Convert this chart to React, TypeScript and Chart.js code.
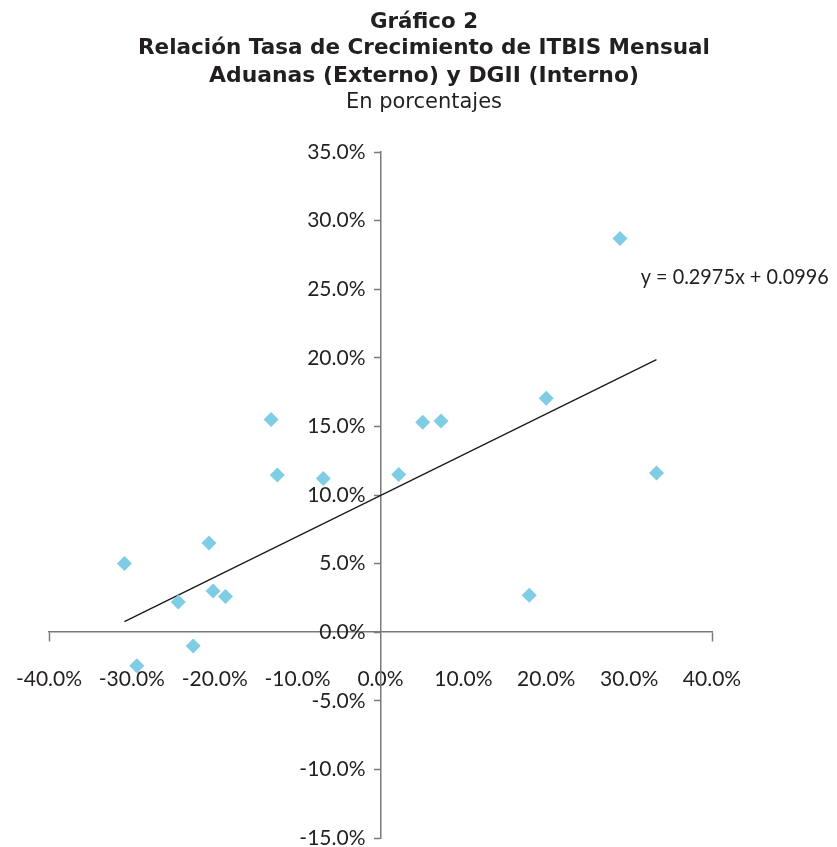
import React, { useEffect, useRef } from "react";
import { Chart, registerables } from "chart.js";

Chart.register(...registerables);

// ---- data ----
const titleLines = [
  "Gráfico 2",
  "Relación Tasa de Crecimiento de ITBIS Mensual",
  "Aduanas (Externo) y DGII (Interno)",
];
const subtitleText = "En porcentajes";

// Crecimiento ITBIS Aduanas (externo), % — eje X
const externoX = [-30.9, -29.4, -24.4, -22.6, -20.7, -20.2, -18.7, -13.2, -12.45, -6.9, 2.2, 5.1, 7.3, 17.95, 20.0, 28.9, 33.3];
// Crecimiento ITBIS DGII (interno), % — eje Y
const internoY = [5.0, -2.45, 2.2, -1.0, 6.5, 3.0, 2.6, 15.5, 11.45, 11.2, 11.5, 15.3, 15.4, 2.7, 17.05, 28.7, 11.6];

const trendSlope = 0.2975;
const trendIntercept = 9.96; // in percent units (0.0996)
const trendLabel = "y = 0.2975x + 0.0996";

const xMin = -40;
const xMax = 40;
const xStep = 10;
const yMin = -15;
const yMax = 35;
const yStep = 5;

const pointColor = "rgb(126,205,228)";
const textColor = "#231f20";
const axisColor = "#7a7a7a";
const tickFont = "Lato";

export default function App() {
  const canvasRef = useRef<HTMLCanvasElement | null>(null);

  useEffect(() => {
    const canvas = canvasRef.current;
    if (!canvas) return;

    const points = externoX.map((x, i) => ({ x, y: internoY[i] }));
    const tx0 = Math.min(...externoX);
    const tx1 = Math.max(...externoX);
    const trend = [
      { x: tx0, y: trendSlope * tx0 + trendIntercept },
      { x: tx1, y: trendSlope * tx1 + trendIntercept },
    ];

    // y labels for a centered axis are drawn flush against the axis; move them left of the tick marks
    const yLabelGap = 15;
    const shiftPlugin = {
      id: "yLabelShift",
      beforeDraw(chart: any) {
        const sy = chart.scales.y;
        const items = sy.getLabelItems(chart.chartArea);
        if (!sy.__shifted) {
          items.forEach((it: any) => {
            it.options.translation[0] -= yLabelGap;
          });
          sy.__shifted = true;
        }
      },
      afterUpdate(chart: any) {
        if (chart.scales.y) chart.scales.y.__shifted = false;
      },
    };

    const textPlugin = {
      id: "texts",
      afterDraw(chart: any) {
        const ctx = chart.ctx;
        ctx.save();
        ctx.fillStyle = textColor;
        ctx.textAlign = "center";
        ctx.textBaseline = "alphabetic";
        const cx = 424;
        const baselines = [28, 54, 82];
        const widths = [108, 572, 430];
        ctx.font = 'bold 22px "DejaVu Sans"';
        titleLines.forEach((t, i) => {
          ctx.fillText(t, cx, baselines[i], widths[i]);
        });
        ctx.font = '21px "DejaVu Sans"';
        ctx.fillText(subtitleText, cx, 108, 156);

        const sx = chart.scales.x;
        const sy = chart.scales.y;
        ctx.font = `21px ${tickFont}`;
        ctx.textAlign = "left";
        ctx.textBaseline = "middle";
        ctx.fillText(trendLabel, sx.getPixelForValue(31.4), sy.getPixelForValue(25.9), 188);
        ctx.restore();
      },
    };

    const chart = new Chart(canvas, {
      type: "scatter",
      data: {
        datasets: [
          {
            label: "ITBIS",
            data: points,
            pointStyle: "rectRot",
            pointRadius: 7.5,
            pointHoverRadius: 7.5,
            backgroundColor: pointColor,
            borderColor: pointColor,
            borderWidth: 0,
          },
          {
            type: "line",
            label: "Tendencia",
            data: trend,
            borderColor: "#1a1a1a",
            borderWidth: 1.3,
            pointRadius: 0,
            fill: false,
          },
        ],
      },
      options: {
        responsive: false,
        animation: false,
        devicePixelRatio: 1,
        layout: { padding: { left: 49, right: 125, top: 152, bottom: 9 } },
        plugins: {
          legend: { display: false },
          tooltip: { enabled: false },
          title: { display: false },
        },
        scales: {
          x: {
            type: "linear",
            position: { y: 0 },
            min: xMin,
            max: xMax,
            afterFit(scale: any) {
              scale.paddingLeft = 0;
              scale.paddingRight = 0;
              scale.paddingTop = 0;
              scale.paddingBottom = 0;
            },
            ticks: {
              stepSize: xStep,
              color: textColor,
              font: { family: tickFont, size: 21 },
              padding: 25,
              maxRotation: 0,
              callback: (v: any) => Number(v).toFixed(1) + "%",
            },
            grid: {
              display: true,
              drawOnChartArea: false,
              drawTicks: true,
              tickLength: 9,
              tickWidth: 1.5,
              tickColor: (c: any) =>
                c.tick && (c.tick.value === xMin || c.tick.value === xMax) ? axisColor : "rgba(0,0,0,0)",
            },
            border: { display: true, color: axisColor, width: 1.5 },
          },
          y: {
            type: "linear",
            position: { x: 0 },
            min: yMin,
            max: yMax,
            afterFit(scale: any) {
              scale.paddingLeft = 0;
              scale.paddingRight = 0;
              scale.paddingTop = 0;
              scale.paddingBottom = 0;
            },
            ticks: {
              stepSize: yStep,
              color: textColor,
              font: { family: tickFont, size: 21 },
              padding: 8,
              callback: (v: any) => Number(v).toFixed(1) + "%",
            },
            grid: {
              display: true,
              drawOnChartArea: false,
              drawTicks: true,
              tickLength: 6,
              tickWidth: 1.5,
              tickColor: axisColor,
            },
            border: { display: true, color: axisColor, width: 1.5 },
          },
        },
      },
      plugins: [shiftPlugin, textPlugin],
    } as any);

    return () => chart.destroy();
  }, []);

  return (
    <div style={{ position: "fixed", left: 0, top: 0, width: 837, height: 847, background: "#fff" }}>
      <canvas ref={canvasRef} width={837} height={847} style={{ display: "block" }} />
    </div>
  );
}
